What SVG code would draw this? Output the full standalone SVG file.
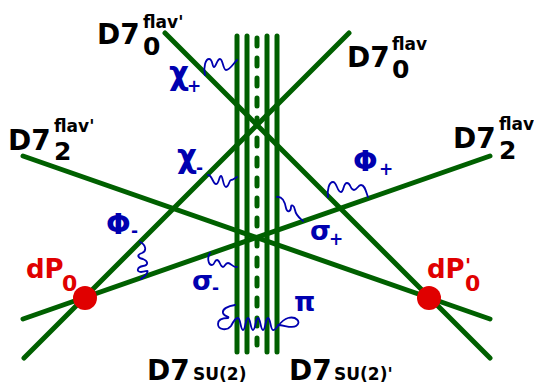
<svg xmlns="http://www.w3.org/2000/svg" width="534" height="386" viewBox="0 0 534 386">
<style>
.g{stroke:#006000;stroke-width:5;stroke-linecap:round;fill:none}
.w{stroke:#0000b0;stroke-width:1.8;fill:none;stroke-linecap:round}
.t{font-family:"DejaVu Sans",sans-serif;font-weight:bold;fill:#000}
.b{font-family:"DejaVu Sans",sans-serif;font-weight:bold;fill:#0000b0}
.r{font-family:"DejaVu Sans",sans-serif;font-weight:bold;fill:#e00000}
</style>
<g id="connectors">
<line class="g" x1="165" y1="33" x2="490" y2="358"/>
<line class="g" x1="349" y1="33" x2="24" y2="358"/>
<line class="g" x1="23" y1="156" x2="490" y2="319"/>
<line class="g" x1="490" y1="156" x2="23" y2="319"/>
<line class="g" x1="237" y1="36" x2="237" y2="352"/>
<line class="g" x1="247" y1="36" x2="247" y2="352"/>
<line class="g" x1="257" y1="38" x2="257" y2="345" stroke-dasharray="8 12"/>
<line class="g" x1="267" y1="36" x2="267" y2="352"/>
<line class="g" x1="277" y1="36" x2="277" y2="352"/>
<path class="w" d="M205,75 C203,66 206,59 209,59 C213,59 212,67 214,67 C216,67 217,59 220,59 C223,59 223,70 226,70 C230,70 233,64 237,60"/>
<path class="w" d="M208,175 C212,175 213,184 216,184 C219,184 219,176 221,176 C223,176 223,187 226,187 C229,187 229,180 231,180 C233,180 235,178 237,177"/>
<path class="w" d="M277,197 C283,196 285,203 286,208 C287,213 291,212 291,207 C291,204 294,205 295,210 C296,216 300,218 303,221"/>
<path class="w" d="M328,197 C327,190 329,182 333,182 C337,182 337,192 341,192 C344,192 343,183 347,183 C351,183 350,190 354,190 C357,190 358,185 361,185 C365,185 366,192 368,197"/>
<path class="w" d="M140,242 C146,245 147,251 142,253 C136,255 138,258 143,259 C148,261 149,265 143,266 C137,267 136,272 141,272 C146,272 149,269 147,273 C146,276 143,277 141,279"/>
<path class="w" d="M210,253 C207,257 208,265 212,265 C215,265 214,260 217,260 C220,260 220,267 223,267 C225,267 225,263 228,263 C231,263 233,268 237,267"/>
<path class="w" d="M235,305 C228,306 222,309 223,313 C224,317 230,316 228,318 C222,318 218,320 218,324 C218,330 227,331 231,326 C233,322 235.5,318 238,318 C240.5,318 240.5,330 243,330 S245.5,318 248,318 S250.5,330 253,330 S255.5,318 258,318 S260.5,330 263,330 S265.5,318 268,318 S270.5,330 273,330 C276,331 280,320 288,318 C296,316 302,322 296,326 C292,329 284,325 278,325"/>
</g>
<g id="dP0">
<circle cx="85" cy="298" r="12" fill="#e00000"/>
<text class="r" x="26" y="278" font-size="26">dP</text>
<text class="r" x="62" y="291" font-size="22">0</text>
</g>
<g id="dP0p">
<circle cx="429" cy="298" r="12" fill="#e00000"/>
<text class="r" x="427" y="278" font-size="26">dP</text>
<text class="r" x="465" y="272" font-size="20">'</text>
<text class="r" x="465" y="291" font-size="22">0</text>
</g>
<g id="D7_0_flavp">
<text class="t" x="97" y="44" font-size="28">D7</text>
<text class="t" x="143" y="28" font-size="17">flav'</text>
<text class="t" x="143" y="55" font-size="25">0</text>
</g>
<g id="D7_0_flav">
<text class="t" x="347" y="67" font-size="28">D7</text>
<text class="t" x="392" y="50" font-size="17">flav</text>
<text class="t" x="392" y="78" font-size="25">0</text>
</g>
<g id="D7_2_flavp">
<text class="t" x="8" y="150" font-size="28">D7</text>
<text class="t" x="54" y="132" font-size="17">flav'</text>
<text class="t" x="54" y="160" font-size="25">2</text>
</g>
<g id="D7_2_flav">
<text class="t" x="453" y="148" font-size="28">D7</text>
<text class="t" x="499" y="130" font-size="17">flav</text>
<text class="t" x="499" y="159" font-size="25">2</text>
</g>
<g id="D7_SU2">
<text class="t" x="147" y="380" font-size="28">D7</text>
<text class="t" x="193" y="380" font-size="17">SU(2)</text>
</g>
<g id="D7_SU2p">
<text class="t" x="289" y="380" font-size="28">D7</text>
<text class="t" x="334" y="380" font-size="17">SU(2)'</text>
</g>
<g id="labels">
<text class="b" x="169" y="84" font-size="31">χ</text>
<text class="b" x="187" y="92" font-size="17">+</text>
<text class="b" x="177" y="167" font-size="31">χ</text>
<text class="b" x="196" y="174" font-size="17">-</text>
<text class="b" x="353" y="171" font-size="29">Φ</text>
<text class="b" x="379" y="175" font-size="17">+</text>
<text class="b" x="106" y="234" font-size="29">Φ</text>
<text class="b" x="131" y="237" font-size="17">-</text>
<text class="b" x="310" y="240" font-size="27">σ</text>
<text class="b" x="329" y="245" font-size="17">+</text>
<text class="b" x="192" y="290" font-size="27">σ</text>
<text class="b" x="212" y="294" font-size="17">-</text>
<text class="b" x="294" y="311" font-size="27">π</text>
</g>
</svg>
